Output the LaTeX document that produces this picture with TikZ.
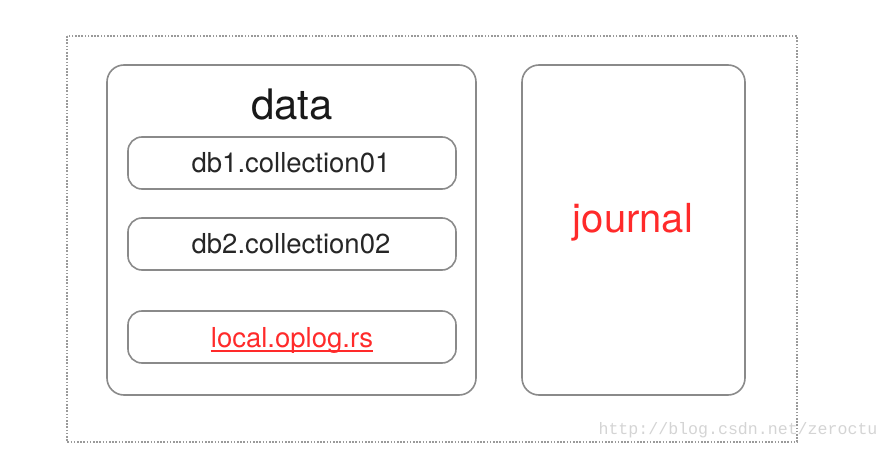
\documentclass[tikz,border=0pt]{standalone}
\usepackage{fontspec}
\setmainfont{TeX Gyre Heros}
\newfontfamily\wmfont{Liberation Mono}
\definecolor{boxgray}{HTML}{8A8A8A}
\definecolor{dotgray}{HTML}{9A9A9A}
\definecolor{jred}{HTML}{FF2A2A}
\definecolor{wmgray}{HTML}{D4D4D4}
\tikzset{
  px/.style={x=1pt,y=-1pt},
  bigbox/.style={draw=boxgray,line width=1.6pt,rounded corners=17pt},
  smallbox/.style={draw=boxgray,line width=1.6pt,rounded corners=14pt},
  outer/.style={draw=dotgray,line width=1.6pt,dash pattern=on 1.6pt off 1.6pt},
  lbl/.style={font=\fontsize{27.5}{30}\selectfont,text=black!85},
}
\begin{document}
\begin{tikzpicture}[px]
\useasboundingbox (0,0) rectangle (888,449);
\draw[outer] (67,36) rectangle (797,442);
\draw[bigbox] (107,65) rectangle (476,395);
\draw[bigbox] (522,65) rectangle (745,395);
\node[font=\fontsize{42}{46}\selectfont,text=black!90] (data) at (292,105) {data};
\draw[smallbox] (128,137) rectangle (456,189);
\node[lbl] (c1) at (291,163) {db1.collection01};
\draw[smallbox] (128,218) rectangle (456,270);
\node[lbl] (c2) at (291,244) {db2.collection02};
\draw[smallbox] (128,311) rectangle (456,363);
\node[lbl,text=jred,inner sep=0pt] (c3) at (292,340) {local.oplog.rs};
\draw[jred,line width=1.1pt] ([yshift=-4pt]c3.base west) -- ([yshift=-4pt]c3.base east);
\node[font=\fontsize{40}{44}\selectfont,text=jred] (journal) at (633,222) {journal};
\node[font=\wmfont\fontsize{16.6}{18}\selectfont,text=wmgray,anchor=west] (wm) at (595,430) {http://blog.csdn.net/zeroctu};
\end{tikzpicture}
\end{document}
